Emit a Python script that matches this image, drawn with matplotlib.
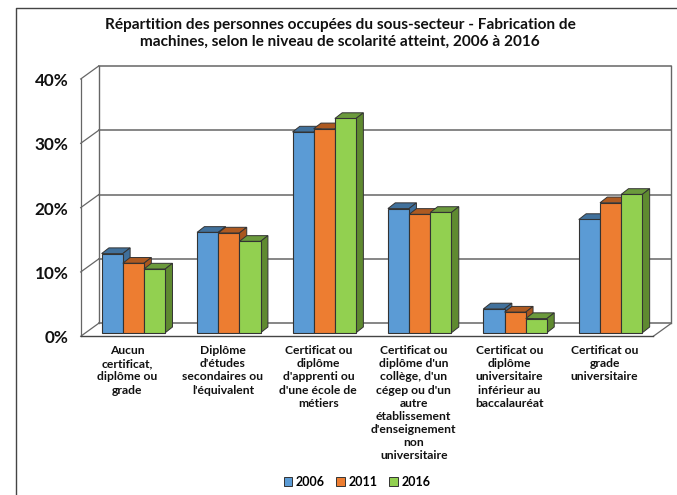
import matplotlib
matplotlib.use('Agg')
import matplotlib.pyplot as plt
from matplotlib.patches import Polygon
from matplotlib.transforms import Affine2D

plt.rcParams['font.family'] = ['Lato', 'DejaVu Sans']

categories = ["Aucun\ncertificat,\ndiplôme ou\ngrade",
              "Diplôme\nd'études\nsecondaires ou\nl'équivalent",
              "Certificat ou\ndiplôme\nd'apprenti ou\nd'une école de\nmétiers",
              "Certificat ou\ndiplôme d'un\ncollège, d'un\ncégep ou d'un\nautre\nétablissement\nd'enseignement\nnon\nuniversitaire",
              "Certificat ou\ndiplôme\nuniversitaire\ninférieur au\nbaccalauréat",
              "Certificat ou\ngrade\nuniversitaire"]
years = ['2006', '2011', '2016']
v2006 = [12.3, 15.6, 31.2, 19.3, 3.7, 17.6]
v2011 = [10.8, 15.5, 31.7, 18.4, 3.2, 20.2]
v2016 = [9.9, 14.2, 33.3, 18.7, 2.2, 21.5]
yticks = [0, 10, 20, 30, 40]
title = ("Répartition des personnes occupées du sous-secteur - Fabrication de\n"
         "machines, selon le niveau de scolarité atteint, 2006 à 2016")

front = ['#5b9bd5', '#ed7d31', '#92d050']
tops = ['#41719c', '#ae5a21', '#6b9a3c']
sides = ['#3f6f9b', '#a9571f', '#5f8a30']
wall = '#666666'

W, H = 677, 495
fig = plt.figure(figsize=(W / 100, H / 100), dpi=100)
# the axes is the front plane of the 3D box
ax = fig.add_axes([80.7 / W, 1 - 336.3 / H, 572.6 / W, 257.3 / H])
ax.set_xlim(0, 6)
ax.set_ylim(0, 40)
ax.axis('off')

# depth of the box and of the bars, in pixels
tr_box = ax.transData + Affine2D().translate(18, 13)
tr_bar = ax.transData + Affine2D().translate(5, 3.6)
dx, dy = 7.3, 5.7

# chart frame, open at the right and bottom edge of the image
fig.add_artist(plt.Line2D([16.3 / W, 16.3 / W, 1], [0, 1 - 8.4 / H, 1 - 8.4 / H],
                          color='#444444', lw=1.0))

# walls
for t in yticks:
    ax.plot([0, 6], [t, t], color=wall, lw=1.1, transform=tr_box, clip_on=False, zorder=1)
    x0, y0 = ax.transData.transform((0, t))
    x1, y1 = tr_box.transform((0, t))
    ax.plot([x0, x1], [y0, y1], color=wall, lw=0.9, transform=None, clip_on=False, zorder=1)
ax.plot([0, 0], [0, 40], color=wall, lw=0.9, clip_on=False, zorder=1)
ax.plot([0, 0], [0, 40], color=wall, lw=1.0, transform=tr_box, clip_on=False, zorder=1)
ax.plot([6, 6], [0, 40], color=wall, lw=1.0, transform=tr_box, clip_on=False, zorder=1)
x0, y0 = ax.transData.transform((6, 0))
x1, y1 = tr_box.transform((6, 0))
ax.plot([x0, x1], [y0, y1], color=wall, lw=0.9, transform=None, clip_on=False, zorder=1)
ax.plot([0, 6], [0, 0], color='#444444', lw=1.0, clip_on=False, zorder=1)

# bars
width = 0.222
for s, vals in enumerate([v2006, v2011, v2016]):
    for i, v in enumerate(vals):
        left = i + 0.5 + (s - 1.5) * width
        right = left + width
        z = 3 + s + i * 3
        (xa, ya), (xb, yb), (xc, yc) = tr_bar.transform([(left, v), (right, v), (right, 0)])
        ax.add_patch(Polygon([(xa, ya), (xb, yb), (xb + dx, yb + dy), (xa + dx, ya + dy)],
                             closed=True, transform=None, fc=tops[s], ec='#333333', lw=0.7,
                             clip_on=False, zorder=z))
        ax.add_patch(Polygon([(xb, yb), (xc, yc), (xc + dx, yc + dy), (xb + dx, yb + dy)],
                             closed=True, transform=None, fc=sides[s], ec='#333333', lw=0.7,
                             clip_on=False, zorder=z))
        ax.bar(left, v, width, align='edge', color=front[s], edgecolor='#333333', lw=0.8,
               transform=tr_bar, clip_on=False, zorder=z + 0.5)

# tick labels
for t in yticks:
    ax.text(-0.13, t - 0.3, f'{t}%', ha='right', va='center', fontsize=12.3, fontweight='bold',
            color='#111111', clip_on=False)
for i, c in enumerate(categories):
    ax.text(i + 0.49, -1.4, c, ha='center', va='top', fontsize=8.7, fontweight='bold',
            linespacing=1.23, color='#111111', clip_on=False)

fig.text(340 / W, 1 - 33.5 / H, title, ha='center', va='center', fontsize=11.1, fontweight='bold',
         linespacing=1.32, color='#111111')

# legend
handles = [plt.Rectangle((0, 0), 1, 1, fc=front[s], ec='#333333', lw=0.7) for s in range(3)]
fig.legend(handles, years, loc='center', bbox_to_anchor=(357 / W, 1 - 482 / H), ncol=3, frameon=False,
           prop={'size': 9, 'weight': 'bold'}, handlelength=0.7, handleheight=0.7,
           handletextpad=0.3, columnspacing=0.9)

fig.savefig('out.png', dpi=100)
